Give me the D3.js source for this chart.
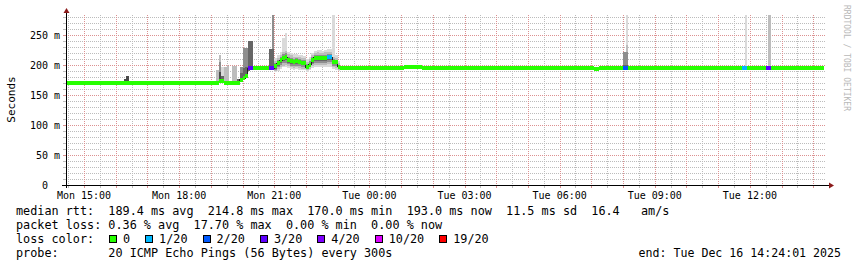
<!DOCTYPE html>
<html>
<head>
<meta charset="utf-8">
<script src="https://cdn.jsdelivr.net/npm/d3@7"></script>
<style>
  body { margin: 0; background: #fff; }
  svg text { font-family: "DejaVu Sans Mono", monospace; white-space: pre; }
</style>
</head>
<body>
<svg id="chart" width="857" height="267"></svg>
<script>
// Median-Werte: Beginn des Intervalls, Wert in ms, Verlust (von 20 Pings)
const medianTimes = ["Mon 14:25","Mon 19:15","Mon 19:25","Mon 19:55","Mon 20:00","Mon 20:05","Mon 20:10","Mon 20:20",
  "Mon 20:50","Mon 21:00","Mon 21:05","Mon 21:10","Mon 21:15","Mon 21:20","Mon 21:25","Mon 21:30","Mon 21:35",
  "Mon 21:40","Mon 21:45","Mon 21:50","Mon 21:55","Mon 22:00","Mon 22:05","Mon 22:10","Mon 22:15","Mon 22:30",
  "Mon 22:35","Mon 22:40","Mon 22:50","Mon 23:00","Mon 23:05","Tue 01:05","Tue 01:40","Tue 07:05","Tue 07:15",
  "Tue 08:00","Tue 08:10","Tue 11:45","Tue 11:55","Tue 12:30","Tue 12:40"];
const medianValues = [170,173,170,175,178,182,194.5,194.5,
  194.5,198,203,208,211,213,208,206,205,
  206,205,203,203,196,200,208,212,211,
  212,213,205,197,194.5,196,194.5,192.5,194.5,
  194.5,194.5,194.5,194.5,194.5,194.5];
const medianLoss = [0,0,0,0,0,0,3,0,
  3,0,0,0,0,0,0,0,0,
  0,0,0,0,0,0,0,0,0,
  0,1,0,0,0,0,0,0,0,
  2,0,1,0,3,0];
const medianEnd = "Tue 14:20";

// Rauch (Streuung der 20 Pings), je 5 Minuten: [untere Grenze, obere Grenze, Tiefe]
const smokeTimes = ["Mon 16:15","Mon 16:20",
  "Mon 19:10","Mon 19:15","Mon 19:20","Mon 19:25","Mon 19:30","Mon 19:40","Mon 19:45","Mon 19:50",
  "Mon 19:55","Mon 20:00","Mon 20:05","Mon 20:10","Mon 20:15","Mon 20:50","Mon 20:55",
  "Mon 21:00","Mon 21:05","Mon 21:10","Mon 21:15","Mon 21:20","Mon 21:25","Mon 21:30","Mon 21:35",
  "Mon 21:40","Mon 21:45","Mon 21:50","Mon 21:55","Mon 22:00","Mon 22:05","Mon 22:10","Mon 22:15",
  "Mon 22:20","Mon 22:25","Mon 22:30","Mon 22:35","Mon 22:40","Mon 22:45","Mon 22:50","Mon 22:55","Mon 23:00",
  "Tue 08:00","Tue 08:05","Tue 10:05","Tue 11:50","Tue 12:35"];
const smokeBands = [
  [[170,177,4]], [[170,181,4]],
  [[170,192,1]],
  [[170,216,1],[170,205,2],[170,188,4]],
  [[170,197,0],[170,182,3]],
  [[168,197,1]], [[168,198,1]], [[168,198,1]], [[168,198,1]],
  [[168,176,3]],
  [[172,197,2],[172,186,3]],
  [[176,228,2],[176,195,3]],
  [[180,228,2],[182,196,3]],
  [[190,240,3]], [[192,240,3]],
  [[195,227,3]],
  [[195,290,2],[195,227,3]],
  [[188,212,0],[190,206,1],[192,203,2],[194,201,3]],
  [[190,216,0],[193,211,1],[196,208,2],[199,206,3]],
  [[194,222,0],[197,217,1],[200,214,2],[203,212,3]],
  [[196,245,0],[199,222,1],[203,218,2],[206,215,3]],
  [[197,253,0],[200,224,1],[204,220,2],[208,217,3]],
  [[195,222,0],[198,218,1],[201,214,2],[204,212,3]],
  [[193,220,0],[196,216,1],[199,212,2],[202,210,3]],
  [[192,218,0],[195,214,1],[198,210,2],[201,208,3]],
  [[193,218,0],[196,214,1],[199,211,2],[202,209,3]],
  [[192,217,0],[195,213,1],[198,210,2],[201,208,3]],
  [[191,216,0],[194,212,1],[197,208,2],[200,206,3]],
  [[191,215,0],[194,211,1],[197,208,2],[200,206,3]],
  [[189,210,0],[191,205,1],[193,202,2],[194,199,3]],
  [[191,214,0],[194,210,1],[196,206,2],[198,203,3]],
  [[195,220,0],[198,216,1],[201,213,2],[204,211,3]],
  [[197,224,0],[200,220,1],[204,217,2],[207,215,3]],
  [[197,225,0],[200,221,1],[204,217,2],[207,215,3]],
  [[197,225,0],[200,220,1],[204,217,2],[207,215,3]],
  [[196,224,0],[200,220,1],[203,216,2],[206,214,3]],
  [[197,225,0],[200,221,1],[204,217,2],[207,215,3]],
  [[197,226,0],[201,221,1],[205,218,2],[208,216,3]],
  [[197,226,0],[201,222,1],[205,218,2],[208,216,3]],
  [[193,290,0],[196,214,1],[199,210,2],[202,208,3]],
  [[192,216,0],[195,212,1],[198,209,2],[201,207,3]],
  [[190,206,0],[192,203,1],[194,200,2],[195,199,3]],
  [[194,222,2],[194,200,3]],
  [[194,290,0],[194,233,1],[194,222,2],[194,200,3]],
  [[194,198,0]],
  [[194,290,0]],
  [[194,290,1]]
];

// Legende
const lossCounts = [0, 1, 2, 3, 4, 10, 19];
const lossLabels = ["0", "1/20", "2/20", "3/20", "4/20", "10/20", "19/20"];
const lossColors = ["#26ff00", "#00b8ff", "#0059ff", "#5e00ff", "#7e00ff", "#dd00ff", "#ff0000"];
const smokeShades = ["#dadada", "#bdbdbd", "#8e8e8e", "#666666", "#4a4a4a"];
const legendLines = [
  "median rtt:  189.4 ms avg  214.8 ms max  170.0 ms min  193.0 ms now  11.5 ms sd  16.4   am/s",
  "packet loss: 0.36 % avg  17.70 % max  0.00 % min  0.00 % now",
  "loss color:",
  "probe:       20 ICMP Echo Pings (56 Bytes) every 300s"
];
const endLabel = "end: Tue Dec 16 14:24:01 2025";

// Hilfsfunktion: "Mon 19:15" -> Date
function parseT(s) {
  const [day, hm] = s.split(" ");
  const [h, m] = hm.split(":").map(Number);
  return new Date(2025, 11, day === "Mon" ? 15 : 16, h, m);
}
const step = 5 * 60 * 1000;

const svg = d3.select("#chart");
const x = d3.scaleTime()
  .domain([new Date(2025, 11, 15, 14, 24, 1), new Date(2025, 11, 16, 14, 24, 1)])
  .range([65, 826]);
const y = d3.scaleLinear().domain([0, 283.3]).range([185, 15]);
const lossColor = d3.scaleOrdinal().domain(lossCounts).range(lossColors);

// Gitter
const grid = svg.append("g").attr("shape-rendering", "crispEdges");
const yMinor = d3.range(10, 290, 10).filter(v => v % 50 !== 0);
const yMajor = d3.range(50, 290, 50);
const minorCol = "#bcbcbc", majorCol = "#dc9191";
grid.selectAll(".ymin").data(yMinor).enter().append("line")
  .attr("x1", 66).attr("x2", 826)
  .attr("y1", d => Math.round(y(d)) + 0.5).attr("y2", d => Math.round(y(d)) + 0.5)
  .attr("stroke", minorCol).attr("stroke-dasharray", "1,1");
const xMinor = x.ticks(d3.timeMinute.every(30)).filter(d => d.getMinutes() === 30);
const xMajor = x.ticks(d3.timeHour.every(1));
grid.selectAll(".xmin").data(xMinor).enter().append("line")
  .attr("x1", d => Math.round(x(d)) + 0.5).attr("x2", d => Math.round(x(d)) + 0.5)
  .attr("y1", 15).attr("y2", 185)
  .attr("stroke", minorCol).attr("stroke-dasharray", "1,1");
grid.selectAll(".ymaj").data(yMajor).enter().append("line")
  .attr("x1", 66).attr("x2", 826)
  .attr("y1", d => Math.round(y(d)) + 0.5).attr("y2", d => Math.round(y(d)) + 0.5)
  .attr("stroke", majorCol).attr("stroke-dasharray", "1,1");
grid.selectAll(".xmaj").data(xMajor).enter().append("line")
  .attr("x1", d => Math.round(x(d)) + 0.5).attr("x2", d => Math.round(x(d)) + 0.5)
  .attr("y1", 15).attr("y2", 185)
  .attr("stroke", majorCol).attr("stroke-dasharray", "1,1");

// Plotbereich mit Clip
svg.append("clipPath").attr("id", "plot").append("rect")
  .attr("x", 65).attr("y", 15).attr("width", 761).attr("height", 170);
const plot = svg.append("g").attr("clip-path", "url(#plot)").attr("shape-rendering", "crispEdges");

// Rauch
const smokeRects = [];
smokeTimes.forEach((t, i) => {
  const t0 = parseT(t);
  smokeBands[i].forEach(b => smokeRects.push({ t0, lo: b[0], hi: b[1], depth: b[2] }));
});
smokeRects.sort((a, b) => a.depth - b.depth);
plot.selectAll(".smoke").data(smokeRects).enter().append("rect")
  .attr("x", d => x(d.t0))
  .attr("width", d => x(new Date(+d.t0 + step)) - x(d.t0))
  .attr("y", d => y(d.hi))
  .attr("height", d => y(d.lo) - y(d.hi))
  .attr("fill", d => smokeShades[d.depth]);

// Median: schwarze Stufenlinie und farbige Balken nach Verlust
const segs = medianTimes.map((t, i) => ({
  t0: parseT(t),
  t1: parseT(i + 1 < medianTimes.length ? medianTimes[i + 1] : medianEnd),
  v: medianValues[i],
  loss: medianLoss[i]
}));
const pts = segs.map(s => [s.t0, s.v]).concat([[segs[segs.length - 1].t1, segs[segs.length - 1].v]]);
plot.append("path")
  .attr("d", d3.line().x(d => x(d[0])).y(d => y(d[1])).curve(d3.curveStepAfter)(pts))
  .attr("fill", "none").attr("stroke", "#202020").attr("stroke-width", 1);
plot.selectAll(".med").data(segs).enter().append("rect")
  .attr("x", d => x(d.t0))
  .attr("width", d => x(d.t1) - x(d.t0))
  .attr("y", d => y(d.v) - 2)
  .attr("height", 4)
  .attr("fill", d => lossColor(d.loss));

// Achsen
const ax = svg.append("g").attr("shape-rendering", "crispEdges");
ax.selectAll(".xt").data(xMinor.concat(xMajor)).enter().append("line")
  .attr("x1", d => Math.round(x(d)) + 0.5).attr("x2", d => Math.round(x(d)) + 0.5)
  .attr("y1", 186).attr("y2", 188)
  .attr("stroke", d => d.getMinutes() === 30 ? minorCol : majorCol);
ax.selectAll(".yt").data(yMinor.concat(yMajor)).enter().append("line")
  .attr("x1", 63).attr("x2", 66)
  .attr("y1", d => Math.round(y(d)) + 0.5).attr("y2", d => Math.round(y(d)) + 0.5)
  .attr("stroke", d => d % 50 === 0 ? majorCol : minorCol);
ax.append("line").attr("x1", 62).attr("x2", 829).attr("y1", 185.5).attr("y2", 185.5).attr("stroke", "#000");
ax.append("line").attr("x1", 66.5).attr("x2", 66.5).attr("y1", 188).attr("y2", 13).attr("stroke", "#000");
svg.append("path").attr("d", "M829,182.5 L834,185.5 L829,188.5 Z").attr("fill", "#8b1a1a");
svg.append("path").attr("d", "M63.5,13 L66.5,8 L69.5,13 Z").attr("fill", "#8b1a1a");

// Achsenbeschriftung
const fmt = d3.timeFormat("%a %H:%M");
svg.selectAll(".xl").data(x.ticks(d3.timeHour.every(3))).enter().append("text")
  .attr("x", d => x(d)).attr("y", 199)
  .attr("text-anchor", "middle").attr("font-size", "10px")
  .text(d => fmt(d));
svg.selectAll(".yl").data(d3.range(0, 251, 50)).enter().append("text")
  .attr("x", 60).attr("y", d => y(d)).attr("dy", "0.36em")
  .attr("text-anchor", "end").attr("font-size", "10px")
  .text(d => d === 0 ? "0  " : d + " m");
svg.append("text")
  .attr("transform", "translate(15,99.5) rotate(-90)")
  .attr("text-anchor", "middle").attr("font-size", "11px")
  .text("Seconds");
svg.append("text")
  .attr("transform", "translate(844,5) rotate(90)")
  .attr("font-size", "8px").attr("fill", "#b8b8b8")
  .text("RRDTOOL / TOBI OETIKER");

// Legende
const rowY = [215, 229, 243, 257];
svg.selectAll(".leg").data(legendLines).enter().append("text")
  .attr("x", 16).attr("y", (d, i) => rowY[i])
  .attr("font-size", "11.8px")
  .text(d => d);
const cw = 7.1;
let bx = 109;
lossLabels.forEach((lab, i) => {
  svg.append("rect")
    .attr("x", bx + 0.5).attr("y", 235.5).attr("width", 7).attr("height", 7)
    .attr("fill", lossColors[i]).attr("stroke", "#000").attr("shape-rendering", "crispEdges");
  svg.append("text").attr("x", bx + 14).attr("y", rowY[2]).attr("font-size", "11.8px").text(lab);
  bx += 14 + lab.length * cw + 15;
});
svg.append("text")
  .attr("x", 841).attr("y", rowY[3]).attr("text-anchor", "end")
  .attr("font-size", "11.6px").text(endLabel);
</script>
</body>
</html>
